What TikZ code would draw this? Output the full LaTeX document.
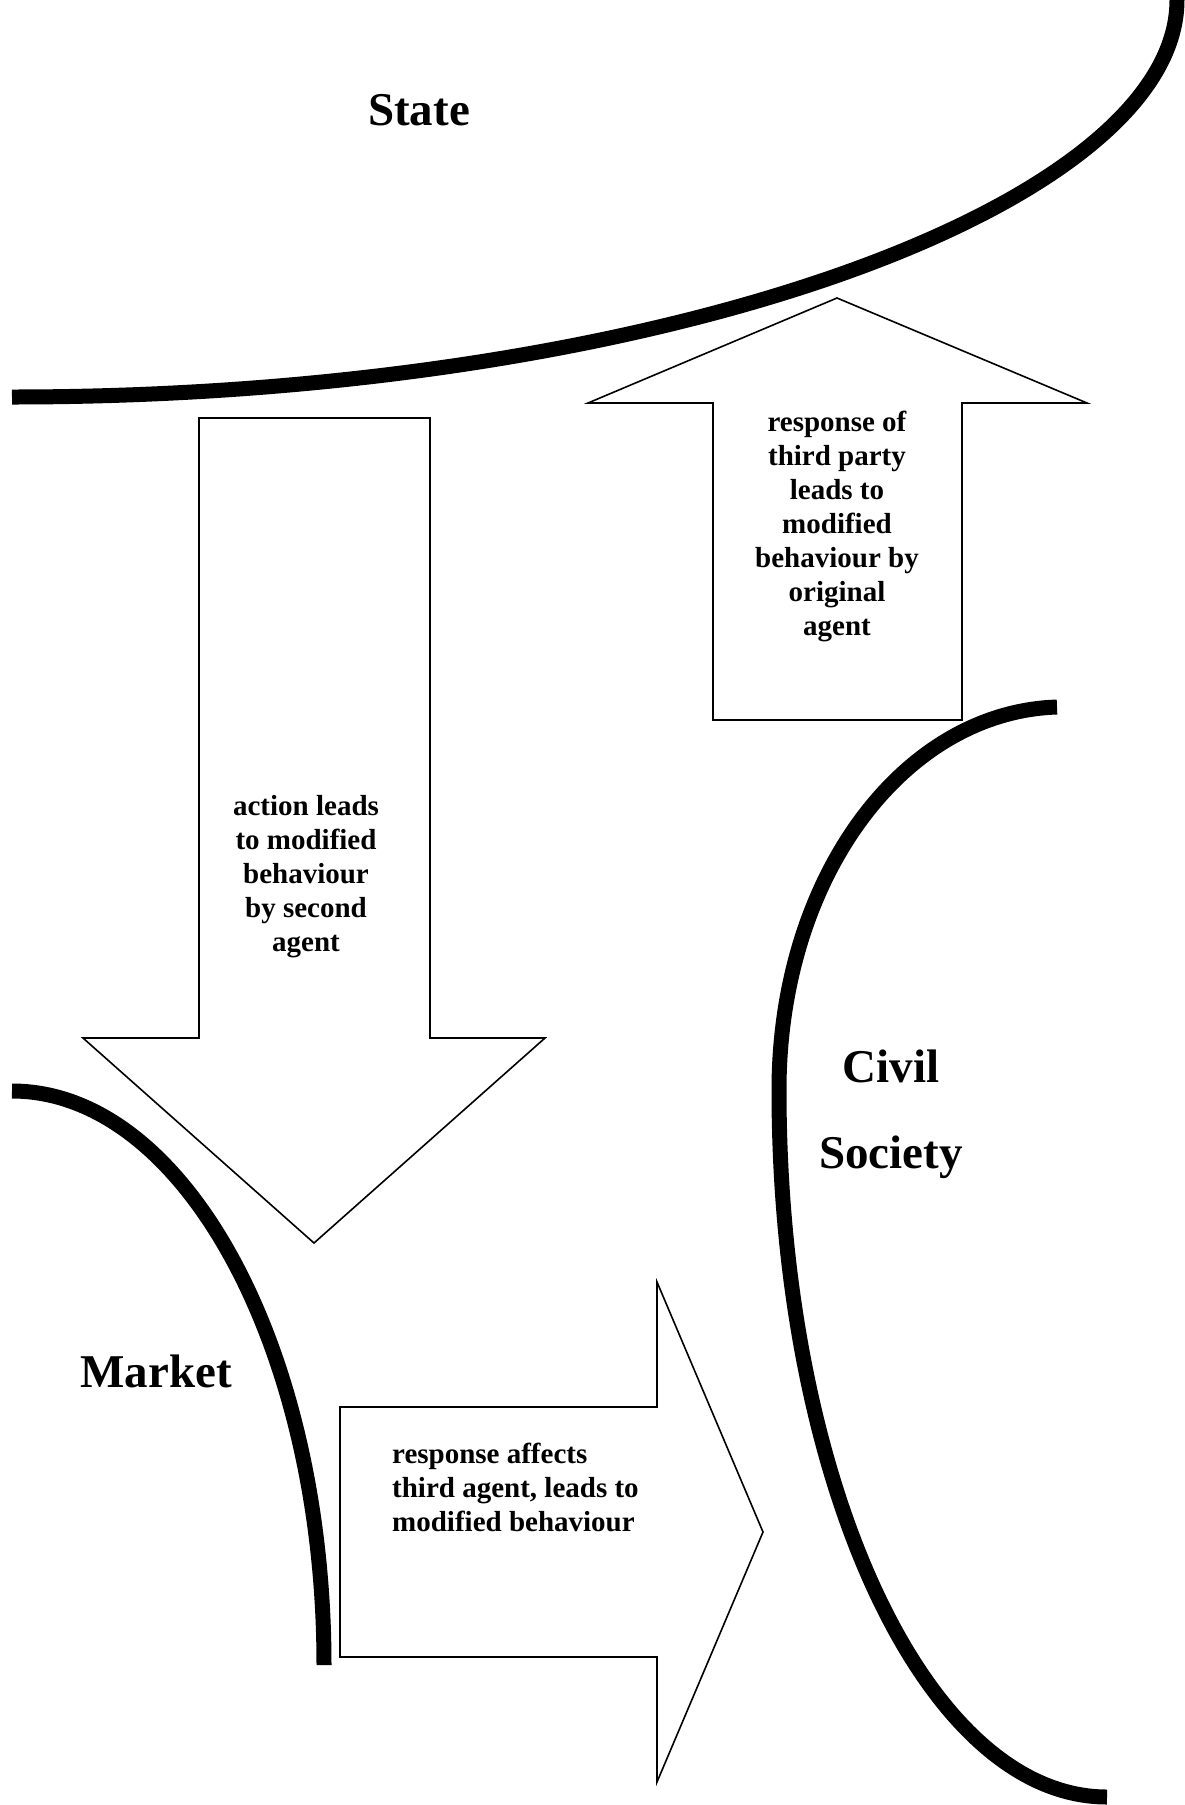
\documentclass[tikz,border=0pt]{standalone}
\usepackage{fontspec}
\setmainfont{Liberation Serif}
\usetikzlibrary{positioning}

\begin{document}
\begin{tikzpicture}[
    x=1pt, y=-1pt,
    realm/.style={line width=15pt},
    blockarrow/.style={draw, line width=1.6pt},
    title/.style={inner sep=0pt, anchor=base, font=\fontsize{47}{56}\selectfont\bfseries},
    note/.style={inner sep=0pt, align=center, font=\fontsize{29}{34}\selectfont\bfseries}
]
\useasboundingbox (0,0) rectangle (1185,1805);

\draw[realm] (12,397) .. controls (660,397) and (1177,205) .. (1177,0);
\draw[realm] (12,1091) .. controls (184,1091) and (324,1348) .. (324,1665);
\draw[realm] (1057,707) .. controls (902,712) and (779,879) .. (779,1090)
    .. controls (779,1480) and (925,1797) .. (1107,1797);

\draw[blockarrow] (199,418) -- (430,418) -- (430,1038) -- (545,1038) -- (314,1243)
    -- (83,1038) -- (199,1038) -- cycle;
\draw[blockarrow] (713,720) -- (713,403) -- (588,403) -- (837,298) -- (1087,403)
    -- (962,403) -- (962,720) -- cycle;
\draw[blockarrow] (340,1407) -- (657,1407) -- (657,1282) -- (763,1532) -- (657,1782)
    -- (657,1657) -- (340,1657) -- cycle;

\node[title] (state) at (419,125) {State};
\node[title] (market) at (156,1387) {Market};
\node[title] (civil) at (891,1082) {Civil};
\node[title] (society) at (891,1168) {Society};

\node[note] (action) at (306,877) {action leads\\to modified\\behaviour\\by second\\agent};
\node[note] (thirdparty) at (837,526) {response of\\third party\\leads to\\modified\\behaviour by\\original\\agent};
\node[note, align=left, anchor=west] (affects) at (392,1487) {response affects\\third agent, leads to\\modified behaviour};
\end{tikzpicture}
\end{document}
